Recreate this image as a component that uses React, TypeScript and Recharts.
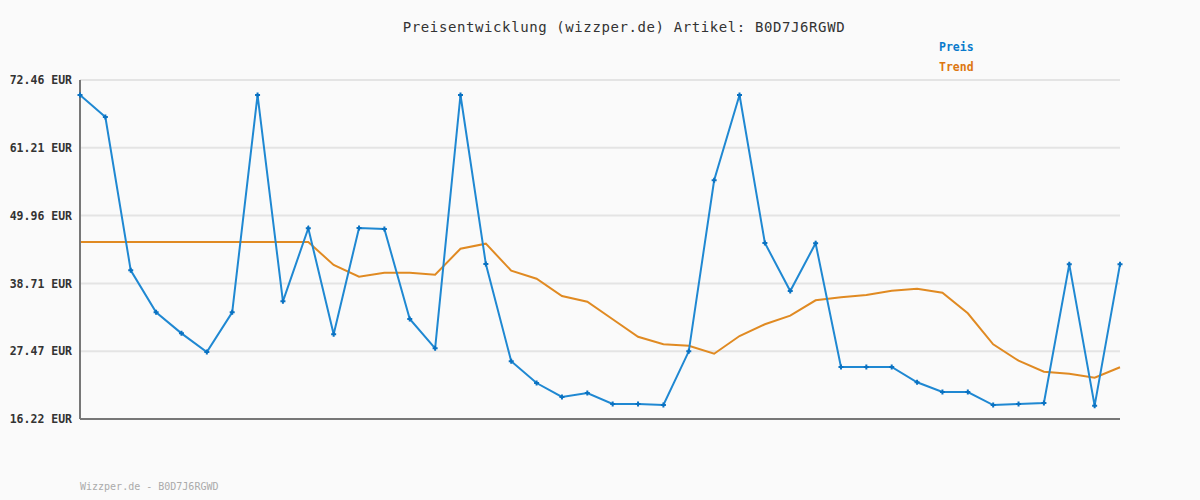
import React from 'react';
import {
  LineChart,
  Line,
  XAxis,
  YAxis,
  CartesianGrid,
} from 'recharts';

const idx = Array.from({ length: 42 }, (_, i) => i);

const preis = [
  69.97, 66.32, 40.88, 33.92, 30.43, 27.33, 33.92, 69.97, 35.74, 47.86,
  30.27, 47.91, 47.74, 32.81, 27.95, 69.97, 41.93, 25.79, 22.19, 19.87,
  20.53, 18.71, 18.71, 18.54, 27.45, 55.82, 69.97, 45.42, 37.45, 45.37,
  24.85, 24.85, 24.85, 22.31, 20.7, 20.7, 18.54, 18.71, 18.87, 41.88,
  18.43, 41.88,
];

const trend = [
  45.58, 45.58, 45.58, 45.58, 45.58, 45.58, 45.58, 45.58, 45.58, 45.58,
  41.77, 39.83, 40.49, 40.49, 40.16, 44.47, 45.31, 40.83, 39.5, 36.62,
  35.68, 32.76, 29.87, 28.61, 28.38, 27.05, 29.99, 31.93, 33.36, 35.91,
  36.41, 36.79, 37.51, 37.84, 37.18, 33.75, 28.61, 25.89, 24.06, 23.73,
  23.07, 24.8,
];

const yTicks = [16.22, 27.47, 38.71, 49.96, 61.21, 72.46];

const data = idx.map((i) => ({ i, preis: preis[i], trend: trend[i] }));

const mono = '"DejaVu Sans Mono", "Liberation Mono", monospace';

const PlusDot = (props: any) => {
  const { cx, cy, key } = props;
  if (cx == null || cy == null) return null;
  return (
    <path
      key={key}
      d={`M${cx - 2.5},${cy}H${cx + 2.5}M${cx},${cy - 2.5}V${cy + 2.5}`}
      stroke="#0a72c2"
      strokeWidth={2}
      fill="none"
    />
  );
};

export default function App() {
  return (
    <div
      style={{
        position: 'absolute',
        left: 0,
        top: 0,
        width: 1200,
        height: 500,
        background: '#fafafa',
        overflow: 'hidden',
      }}
    >
      <div
        style={{
          position: 'absolute',
          top: 19,
          left: 0,
          width: 1248,
          textAlign: 'center',
          fontFamily: mono,
          fontSize: 14,
          letterSpacing: 0.6,
          color: '#333',
        }}
      >
        Preisentwicklung (wizzper.de) Artikel: B0D7J6RGWD
      </div>
      {/* legend, top right */}
      <div
        style={{
          position: 'absolute',
          top: 37,
          left: 939,
          fontFamily: mono,
          fontSize: 11.5,
          fontWeight: 'bold',
          lineHeight: '20px',
        }}
      >
        <div style={{ color: '#0a7acc' }}>Preis</div>
        <div style={{ color: '#dd7711' }}>Trend</div>
      </div>
      <LineChart
        width={1200}
        height={500}
        data={data}
        margin={{ top: 80, right: 80, bottom: 80, left: 0 }}
      >
        <CartesianGrid vertical={false} stroke="#e4e4e4" strokeWidth={2} />
        <XAxis
          dataKey="i"
          type="number"
          domain={[0, 41]}
          tick={false}
          tickLine={false}
          axisLine={{ stroke: '#777', strokeWidth: 2 }}
          height={1}
        />
        <YAxis
          type="number"
          domain={[16.22, 72.46]}
          ticks={yTicks}
          interval={0}
          width={80}
          tickLine={false}
          tickSize={0}
          tickMargin={8}
          axisLine={{ stroke: '#777', strokeWidth: 2 }}
          tickFormatter={(v: number) => `${v.toFixed(2)} EUR`}
          tick={{ fontFamily: mono, fontSize: 11.5, fontWeight: 'bold', fill: '#333' }}
        />
        <Line
          dataKey="trend"
          stroke="#e08a22"
          strokeWidth={2}
          dot={false}
          isAnimationActive={false}
        />
        <Line
          dataKey="preis"
          stroke="#1f88d2"
          strokeWidth={2}
          dot={PlusDot}
          isAnimationActive={false}
        />
      </LineChart>
      <div
        style={{
          position: 'absolute',
          top: 481,
          left: 80,
          fontFamily: mono,
          fontSize: 10,
          color: '#aaa',
        }}
      >
        Wizzper.de - B0D7J6RGWD
      </div>
    </div>
  );
}
